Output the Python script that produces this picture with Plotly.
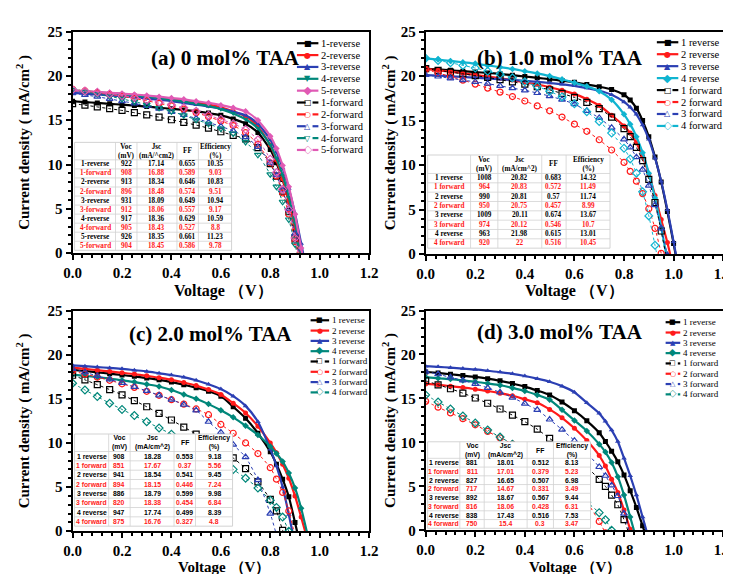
import plotly.graph_objects as go

W, H = 731, 574
SERIF = "Liberation Serif"
SANS = "Liberation Sans"

# ---------------- data: panel (a) 0 mol% TAA ----------------
a_voltage = [0, .05, .1, .15, .2, .25, .3, .35, .4, .45, .5, .55, .6, .65, .7, .75, .8, .825, .85, .875, .9, .925, .95]
a_1_reverse = [17.14, 17.05, 16.95, 16.85, 16.75, 16.65, 16.55, 16.4, 16.3, 16.15, 16.0, 15.8, 15.55, 15.15, 14.6, 13.6, 11.7, 10.2, 8.3, 5.9, 3.1, -0.2, -3.5]
a_2_reverse = [18.34, 18.25, 18.15, 18.05, 17.95, 17.85, 17.7, 17.55, 17.4, 17.2, 17.0, 16.75, 16.45, 16.0, 15.45, 14.3, 12.2, 10.5, 8.4, 5.9, 2.8, -0.7, -4.1]
a_3_reverse = [18.09, 18.0, 17.9, 17.8, 17.7, 17.6, 17.45, 17.3, 17.15, 16.95, 16.75, 16.55, 16.3, 15.95, 15.55, 14.6, 12.8, 11.4, 9.6, 7.3, 4.5, 1.1, -2.4]
a_4_reverse = [18.36, 18.25, 18.15, 18.05, 17.95, 17.8, 17.65, 17.5, 17.3, 17.1, 16.85, 16.6, 16.25, 15.75, 15.1, 14.1, 12.2, 10.7, 8.8, 6.3, 3.4, -0.2, -3.8]
a_5_reverse = [18.35, 18.27, 18.2, 18.1, 18.0, 17.9, 17.8, 17.65, 17.5, 17.35, 17.15, 16.95, 16.7, 16.4, 16.0, 15.0, 13.2, 11.8, 9.9, 7.5, 4.4, 0.6, -3.1]
a_1_forward = [16.88, 16.7, 16.5, 16.3, 16.1, 15.85, 15.6, 15.35, 15.05, 14.75, 14.45, 14.1, 13.7, 13.3, 12.9, 11.9, 10.1, 8.7, 7.0, 4.7, 1.7, -1.6, -4.8]
a_2_forward = [18.48, 18.3, 18.1, 17.9, 17.7, 17.45, 17.2, 16.9, 16.6, 16.25, 15.85, 15.4, 14.9, 14.4, 13.6, 12.3, 10.2, 8.7, 6.8, 4.4, 1.3, -2.1, -5.5]
a_3_forward = [18.06, 17.85, 17.65, 17.4, 17.15, 16.9, 16.6, 16.3, 15.95, 15.6, 15.2, 14.75, 14.3, 13.8, 13.1, 12.0, 10.2, 8.8, 7.1, 5.0, 2.2, -0.9, -4.0]
a_4_forward = [18.43, 18.2, 17.95, 17.7, 17.4, 17.1, 16.75, 16.4, 16.0, 15.55, 15.05, 14.6, 14.05, 13.5, 12.55, 11.1, 8.9, 7.5, 5.8, 3.8, 1.0, -2.2, -5.5]
a_5_forward = [18.45, 18.3, 18.15, 17.95, 17.75, 17.55, 17.3, 17.05, 16.75, 16.4, 16.0, 15.55, 15.1, 14.6, 13.95, 12.8, 10.6, 9.1, 7.2, 4.9, 1.7, -1.7, -5.2]

a_tab_labels = ["1-reverse", "1-forward", "2-reverse", "2-forward", "3-reverse", "3-forward", "4-reverse", "4-forward", "5-reverse", "5-forward"]
a_tab_voc = [922, 908, 913, 896, 931, 912, 917, 905, 926, 904]
a_tab_jsc = [17.14, 16.88, 18.34, 18.48, 18.09, 18.06, 18.36, 18.43, 18.35, 18.45]
a_tab_ff = [0.655, 0.589, 0.646, 0.574, 0.649, 0.557, 0.629, 0.527, 0.661, 0.586]
a_tab_eff = [10.35, 9.03, 10.83, 9.51, 10.94, 9.17, 10.59, 8.8, 11.23, 9.78]

# ---------------- data: panel (b) 1.0 mol% TAA ----------------
b_voltage = [0, .05, .1, .15, .2, .25, .3, .35, .4, .45, .5, .55, .6, .65, .7, .75, .8, .825, .85, .875, .9, .925, .95, .975, 1.0, 1.025]
b_1_reverse = [20.82, 20.75, 20.65, 20.55, 20.45, 20.35, 20.25, 20.1, 19.95, 19.8, 19.65, 19.5, 19.3, 19.05, 18.8, 18.5, 17.9, 17.3, 16.4, 15.0, 13.2, 10.9, 8.1, 4.8, 1.2, -2.6]
b_2_reverse = [20.81, 20.65, 20.5, 20.3, 20.15, 19.95, 19.75, 19.55, 19.3, 19.05, 18.75, 18.4, 18.0, 17.4, 16.7, 15.6, 14.4, 13.6, 12.5, 11.0, 9.0, 6.6, 3.9, 1.3, -1.7, None]
b_3_reverse = [20.11, 20.05, 19.98, 19.9, 19.82, 19.74, 19.65, 19.56, 19.46, 19.35, 19.22, 19.07, 18.9, 18.65, 18.35, 17.9, 17.1, 16.5, 15.7, 14.5, 12.9, 10.8, 8.2, 5.0, 1.4, -2.4]
b_4_reverse = [21.98, 21.85, 21.7, 21.55, 21.4, 21.2, 21.0, 20.8, 20.55, 20.3, 20.0, 19.65, 19.25, 18.85, 18.3, 17.35, 15.7, 14.6, 13.2, 11.4, 9.1, 6.3, 3.0, -0.7, -4.5, None]
b_1_forward = [20.83, 20.65, 20.45, 20.25, 20.05, 19.85, 19.6, 19.35, 19.1, 18.8, 18.45, 18.05, 17.6, 17.05, 16.35, 15.4, 14.1, 13.2, 12.0, 10.5, 8.4, 5.8, 2.6, -1.0, -4.8, None]
b_2_forward = [20.75, 20.35, 19.95, 19.55, 19.1, 18.65, 18.2, 17.7, 17.2, 16.65, 16.1, 15.4, 14.6, 13.8, 12.85, 11.7, 10.3, 9.3, 8.2, 6.8, 5.1, 2.9, 0.1, -3.2, None, None]
b_3_forward = [20.12, 19.95, 19.75, 19.55, 19.35, 19.15, 18.9, 18.65, 18.4, 18.1, 17.75, 17.35, 16.85, 16.1, 15.3, 14.2, 12.9, 12.0, 10.9, 9.5, 7.7, 5.5, 2.9, -0.1, -3.5, None]
b_4_forward = [22.0, 21.75, 21.5, 21.2, 20.9, 20.55, 20.2, 19.8, 19.35, 18.85, 18.3, 17.65, 16.9, 16.0, 14.9, 13.6, 11.9, 10.7, 9.1, 7.0, 4.3, 1.0, -2.5, None, None, None]

b_tab_labels = ["1 reverse", "1 forward", "2 reverse", "2 forward", "3 reverse", "3 forward", "4 reverse", "4 forward"]
b_tab_voc = [1008, 964, 990, 950, 1009, 974, 963, 920]
b_tab_jsc = [20.82, 20.83, 20.81, 20.75, 20.11, 20.12, 21.98, 22]
b_tab_ff = [0.683, 0.572, 0.57, 0.457, 0.674, 0.546, 0.615, 0.516]
b_tab_eff = [14.32, 11.49, 11.74, 8.99, 13.67, 10.7, 13.01, 10.45]

# ---------------- data: panel (c) 2.0 mol% TAA ----------------
c_voltage = [0, .05, .1, .15, .2, .25, .3, .35, .4, .45, .5, .55, .6, .65, .7, .75, .8, .825, .85, .875, .9, .925, .95, .975]
c_1_reverse = [18.28, 18.15, 18.0, 17.85, 17.7, 17.55, 17.35, 17.15, 16.9, 16.6, 16.25, 15.85, 15.3, 14.1, 12.8, 11.1, 9.0, 7.6, 5.9, 3.9, 1.0, -2.0, None, None]
c_2_reverse = [18.54, 18.4, 18.25, 18.1, 17.95, 17.8, 17.6, 17.4, 17.15, 16.85, 16.5, 16.05, 15.5, 14.5, 13.4, 11.9, 10.0, 8.9, 7.6, 6.0, 4.0, 1.6, -0.9, -3.4]
c_3_reverse = [18.79, 18.7, 18.6, 18.5, 18.4, 18.25, 18.1, 17.9, 17.7, 17.45, 17.1, 16.65, 16.1, 15.3, 14.2, 12.4, 9.3, 7.4, 5.0, 1.9, -1.5, None, None, None]
c_4_reverse = [17.74, 17.6, 17.45, 17.3, 17.1, 16.9, 16.65, 16.4, 16.0, 15.5, 15.0, 14.4, 13.7, 12.9, 11.95, 10.9, 9.6, 8.8, 7.9, 6.6, 4.9, 2.6, -0.3, None]
c_1_forward = [17.67, 17.15, 16.6, 16.05, 15.45, 14.8, 14.1, 13.35, 12.6, 11.8, 11.0, 10.1, 9.2, 8.3, 7.1, 5.6, 3.6, 2.3, 0.1, -1.8, None, None, None, None]
c_2_forward = [18.15, 17.8, 17.45, 17.1, 16.7, 16.3, 15.85, 15.4, 14.9, 14.4, 13.85, 13.2, 12.1, 11.1, 10.0, 8.8, 7.2, 5.9, 4.4, 2.3, -0.5, None, None, None]
c_3_forward = [18.38, 18.0, 17.6, 17.2, 16.8, 16.35, 15.9, 15.4, 14.9, 14.35, 13.7, 12.4, 11.2, 9.8, 8.4, 5.8, 2.0, -0.4, None, None, None, None, None, None]
c_4_forward = [16.76, 16.0, 15.25, 14.5, 13.8, 13.1, 12.4, 11.7, 11.0, 10.3, 9.6, 8.75, 7.9, 7.0, 6.0, 4.9, 3.5, 2.7, 1.6, 0.0, -1.6, None, None, None]

c_tab_labels = b_tab_labels
c_tab_voc = [908, 851, 941, 894, 886, 820, 947, 875]
c_tab_jsc = [18.28, 17.67, 18.54, 18.15, 18.79, 18.38, 17.74, 16.76]
c_tab_ff = [0.553, 0.37, 0.541, 0.446, 0.599, 0.454, 0.499, 0.327]
c_tab_eff = [9.18, 5.56, 9.45, 7.24, 9.98, 6.84, 8.39, 4.8]

# ---------------- data: panel (d) 3.0 mol% TAA ----------------
d_voltage = [0, .05, .1, .15, .2, .25, .3, .35, .4, .45, .5, .55, .6, .65, .7, .725, .75, .775, .8, .825, .85, .875, .9, .925]
d_1_reverse = [18.01, 17.9, 17.75, 17.6, 17.45, 17.25, 17.0, 16.7, 16.35, 15.9, 15.4, 14.6, 13.6, 12.45, 11.1, 10.1, 9.0, 7.8, 6.3, 4.5, 2.6, 0.5, -1.6, None]
d_2_reverse = [16.65, 16.55, 16.4, 16.25, 16.05, 15.85, 15.6, 15.3, 14.9, 14.5, 13.75, 12.8, 11.6, 10.2, 8.5, 7.3, 5.8, 4.3, 2.3, 0.1, -2.0, None, None, None]
d_3_reverse = [18.67, 18.6, 18.5, 18.4, 18.3, 18.15, 18.0, 17.8, 17.55, 17.25, 16.9, 16.4, 15.7, 14.5, 13.3, 12.4, 11.4, 10.1, 8.2, 6.2, 4.0, 1.5, -1.0, None]
d_4_reverse = [17.43, 17.3, 17.2, 17.05, 16.9, 16.7, 16.5, 16.2, 15.85, 15.4, 14.85, 13.7, 12.5, 11.3, 9.8, 8.9, 7.7, 6.1, 4.0, 1.5, -1.0, None, None, None]
d_1_forward = [17.01, 16.55, 16.1, 15.6, 15.05, 14.45, 13.8, 13.1, 12.35, 11.5, 10.45, 9.45, 8.4, 7.2, 5.8, 5.0, 4.0, 2.9, 1.2, -0.8, None, None, None, None]
d_2_forward = [14.67, 14.0, 13.35, 12.7, 12.0, 11.25, 10.5, 9.8, 8.75, 7.7, 6.8, 5.8, 4.6, 3.2, 1.0, -0.3, None, None, None, None, None, None, None, None]
d_3_forward = [18.06, 17.75, 17.4, 17.05, 16.65, 16.2, 15.7, 15.1, 14.4, 13.7, 12.6, 11.45, 10.2, 8.8, 7.2, 6.2, 5.1, 3.9, 1.9, -0.5, None, None, None, None]
d_4_forward = [15.4, 14.6, 13.8, 13.0, 12.2, 11.4, 10.6, 9.8, 8.7, 7.6, 6.5, 5.4, 4.3, 3.2, 2.0, 1.2, 0.0, -1.2, None, None, None, None, None, None]

d_tab_labels = b_tab_labels
d_tab_voc = [881, 811, 827, 717, 892, 816, 838, 750]
d_tab_jsc = [18.01, 17.01, 16.65, 14.67, 18.67, 18.06, 17.43, 15.4]
d_tab_ff = [0.512, 0.379, 0.507, 0.331, 0.567, 0.428, 0.516, 0.3]
d_tab_eff = [8.13, 5.23, 6.98, 3.49, 9.44, 6.31, 7.53, 3.47]

x_ticks = [0.0, 0.2, 0.4, 0.6, 0.8, 1.0, 1.2]
y_ticks = [0, 5, 10, 15, 20, 25]

# ---------------- styles ----------------
BLACK, RED, BLUE, TEAL, CYAN, PINK = "#000000", "#FF1A1A", "#2B3FB3", "#00877A", "#10B4D0", "#E05AB4"

# panel geometry in pixels: (left, right, top, bottom)
GEOM = {
    "a": (57, 361, 16, 244),
    "b": (419, 724, 16, 245),
    "c": (57, 361, 303, 530),
    "d": (419, 724, 303, 529),
}

def fx(p):
    return p / W

def fy(p):
    return 1 - p / H

fig = go.Figure()
annotations = []
shapes = []

def add_curves(axis_id, volt, rev_list, fwd_list, colors, symbols, sep):
    xa = "x" if axis_id == 1 else f"x{axis_id}"
    ya = "y" if axis_id == 1 else f"y{axis_id}"
    n = len(rev_list)
    for i in range(n):
        fig.add_trace(go.Scatter(
            x=volt, y=rev_list[i], xaxis=xa, yaxis=ya, mode="lines+markers",
            name=f"{i+1}{sep}reverse", showlegend=False,
            line=dict(color=colors[i], width=2.2, shape="spline", smoothing=0.6),
            marker=dict(symbol=symbols[i], size=5, color=colors[i])))
    for i in range(n):
        fig.add_trace(go.Scatter(
            x=volt, y=fwd_list[i], xaxis=xa, yaxis=ya, mode="lines+markers",
            name=f"{i+1}{sep}forward", showlegend=False,
            line=dict(color=colors[i], width=1, dash="dot", shape="spline", smoothing=0.6),
            marker=dict(symbol=symbols[i] + "-open", size=6, color=colors[i],
                        line=dict(width=1.2, color=colors[i]))))

SYM5 = ["square", "circle", "triangle-up", "triangle-down", "diamond"]
SYM4 = ["square", "circle", "triangle-up", "diamond"]
add_curves(1, a_voltage,
           [a_1_reverse, a_2_reverse, a_3_reverse, a_4_reverse, a_5_reverse],
           [a_1_forward, a_2_forward, a_3_forward, a_4_forward, a_5_forward],
           [BLACK, RED, BLUE, TEAL, PINK], SYM5, "-")
add_curves(2, b_voltage,
           [b_1_reverse, b_2_reverse, b_3_reverse, b_4_reverse],
           [b_1_forward, b_2_forward, b_3_forward, b_4_forward],
           [BLACK, RED, BLUE, CYAN], SYM4, " ")
add_curves(3, c_voltage,
           [c_1_reverse, c_2_reverse, c_3_reverse, c_4_reverse],
           [c_1_forward, c_2_forward, c_3_forward, c_4_forward],
           [BLACK, RED, BLUE, TEAL], SYM4, " ")
add_curves(4, d_voltage,
           [d_1_reverse, d_2_reverse, d_3_reverse, d_4_reverse],
           [d_1_forward, d_2_forward, d_3_forward, d_4_forward],
           [BLACK, RED, BLUE, TEAL], SYM4, " ")

# ---------------- axes ----------------
YT = "Current density ( mA/cm<sup>2</sup> )"
XT = "Voltage （V）"
TITLE_FONT_Y = dict(family=SERIF, size=15, color="black", weight="bold")

def xaxis_cfg(key):
    l, r, t, b = GEOM[key]
    return dict(domain=[fx(l), fx(r)], range=[0, 1.2], tickvals=x_ticks,
                ticktext=[f"{v:.1f}" for v in x_ticks],
                showline=True, linecolor="black", linewidth=2, mirror=True,
                ticks="outside", ticklen=5, tickwidth=2, tickcolor="black",
                showgrid=False, zeroline=False,
                tickfont=dict(family=SERIF, size=15, color="black", weight="bold"),
                minor=dict(ticks="outside", ticklen=3, tickwidth=1.5, tickcolor="black", dtick=0.04))

def yaxis_cfg(key, standoff):
    l, r, t, b = GEOM[key]
    return dict(domain=[fy(b), fy(t)], range=[0, 25], tickvals=y_ticks,
                title=dict(text=YT, font=TITLE_FONT_Y, standoff=standoff),
                showline=True, linecolor="black", linewidth=2, mirror=True,
                ticks="outside", ticklen=5, tickwidth=2, tickcolor="black",
                showgrid=False, zeroline=False,
                tickfont=dict(family=SERIF, size=15, color="black", weight="bold"),
                minor=dict(ticks="outside", ticklen=3, tickwidth=1.5, tickcolor="black", dtick=1))

layout_axes = {}
for idx, key in enumerate(["a", "b", "c", "d"], start=1):
    xk = "xaxis" if idx == 1 else f"xaxis{idx}"
    yk = "yaxis" if idx == 1 else f"yaxis{idx}"
    xc = xaxis_cfg(key)
    yc = yaxis_cfg(key, 14 if key in ("a", "c") else 1)
    xc["anchor"] = "y" if idx == 1 else f"y{idx}"
    yc["anchor"] = "x" if idx == 1 else f"x{idx}"
    layout_axes[xk] = xc
    layout_axes[yk] = yc

# ---------------- helpers ----------------
def text(x, y, s, size, family=SERIF, bold=True, angle=0, xanchor="center", color="black"):
    annotations.append(dict(x=fx(x), y=fy(y), xref="paper", yref="paper", text=s,
                            showarrow=False, textangle=angle, xanchor=xanchor, yanchor="middle",
                            borderpad=0,
                            font=dict(family=family, size=size, color=color,
                                      weight="bold" if bold else "normal")))

def hline(x0, x1, y, color, width, dash="solid"):
    shapes.append(dict(type="line", xref="paper", yref="paper", layer="above",
                       x0=fx(x0), x1=fx(x1), y0=fy(y), y1=fy(y),
                       line=dict(color=color, width=width, dash=dash)))

# ---------------- panel titles and x-axis titles ----------------
text(214, 43, "(a) 0 mol% TAA", 21)
text(557, 43, "(b) 1.0 mol% TAA", 21)
text(198, 327, "(c) 2.0 mol% TAA", 21)
text(557, 325, "(d) 3.0 mol% TAA", 21)

text(212, 283, XT, 16)
text(572, 283, XT, 16)
text(212, 566.5, XT, 15)
text(572, 566.5, XT, 15)

# ---------------- legends (line samples + glyphs + labels) ----------------
# glyph: (character, rotation) -- diamonds are rotated squares
G_FILLED = {"square": ("■", 0), "circle": ("●", 0), "triangle-up": ("▲", 0),
            "triangle-down": ("▼", 0), "diamond": ("■", 45)}
G_OPEN = {"square": ("□", 0), "circle": ("○", 0), "triangle-up": ("△", 0),
          "triangle-down": ("▽", 0), "diamond": ("□", 45)}

def add_legend(x0, x1, x_text, y0, dy, fsize, gsize, colors, symbols, sep):
    k = 0
    xc = (x0 + x1) / 2
    n = len(colors)
    for kind in ("reverse", "forward"):
        for i in range(n):
            y = y0 + dy * k
            c = colors[i]
            if kind == "reverse":
                hline(x0, x1, y, c, 2.2)
                g, rot = G_FILLED[symbols[i]]
            else:
                hline(x0, xc - 2, y, c, 2.2)
                hline(xc + 5, x1, y, c, 2.2)
                g, rot = G_OPEN[symbols[i]]
            annotations.append(dict(x=fx(xc), y=fy(y), xref="paper", yref="paper", text=g,
                                    showarrow=False, textangle=rot, xanchor="center",
                                    yanchor="middle", borderpad=0,
                                    font=dict(family="DejaVu Sans", size=gsize, color=c)))
            text(x_text, y, f"{i+1}{sep}{kind}", fsize, bold=False, xanchor="left")
            k += 1

add_legend(287, 309, 311, 28, 12.2, 10.5, 8, [BLACK, RED, BLUE, TEAL, PINK], SYM5, "-")
add_legend(656, 678, 680, 27, 12.3, 10.5, 8, [BLACK, RED, BLUE, CYAN], SYM4, " ")
add_legend(301, 320, 322, 313, 10.6, 9, 7, [BLACK, RED, BLUE, TEAL], SYM4, " ")
add_legend(665, 680, 682, 315, 10.6, 9, 7, [BLACK, RED, BLUE, TEAL], SYM4, " ")

# ---------------- tables (shapes + text) ----------------
def add_table(cols, top, head_bot, row_h, headers, labels, voc, jsc, ff, eff, family, fsize):
    n = len(labels)
    bottom = head_bot + row_h * n
    shapes.append(dict(type="rect", xref="paper", yref="paper", layer="above",
                       x0=fx(cols[0]), x1=fx(cols[-1]), y0=fy(bottom), y1=fy(top),
                       fillcolor="white", line=dict(color="#C8C8C8", width=0.8)))
    for cx in cols[1:-1]:
        shapes.append(dict(type="line", xref="paper", yref="paper", layer="above",
                           x0=fx(cx), x1=fx(cx), y0=fy(bottom), y1=fy(top),
                           line=dict(color="#D2D2D2", width=0.8)))
    for i in range(n):
        hline(cols[0], cols[-1], head_bot + row_h * i, "#D2D2D2", 0.8)
    for j, h in enumerate(headers):
        if h:
            cx = (cols[j] + cols[j + 1]) / 2
            text(cx, (top + head_bot) / 2, h, fsize, family=family)
    columns = [labels, voc, jsc, ff, eff]
    for i in range(n):
        color = "black" if i % 2 == 0 else "#FF1A1A"
        cy = head_bot + row_h * (i + 0.5)
        for j, col in enumerate(columns):
            cx = (cols[j] + cols[j + 1]) / 2
            text(cx, cy, str(col[i]), fsize, family=family, color=color)

add_table([59, 101, 123, 164, 186, 220], 130, 148, 9.3,
          ["", "Voc<br>(mV)", "Jsc<br>(mA/^cm2)", "FF", "Efficiency<br>(%)"],
          a_tab_labels, a_tab_voc, a_tab_jsc, a_tab_ff, a_tab_eff, SERIF, 7.2)
add_table([421, 465, 493, 538, 563, 608], 143, 162, 9.6,
          ["", "Voc<br>(mV)", "Jsc<br>(mA/cm^2)", "FF", "Efficiency<br>(%)"],
          b_tab_labels, b_tab_voc, b_tab_jsc, b_tab_ff, b_tab_eff, SERIF, 7.2)
add_table([59, 94, 116, 161, 183, 221], 430, 448, 9.6,
          ["", "Voc<br>(mV)", "Jsc<br>(mA/cm^2)", "FF", "Efficiency<br>(%)"],
          c_tab_labels, c_tab_voc, c_tab_jsc, c_tab_ff, c_tab_eff, SANS, 6.8)
add_table([421, 454, 479, 523, 550, 588], 438, 455, 9.0,
          ["", "Voc<br>(mV)", "Jsc<br>(mA/cm^2)", "FF", "Efficiency<br>(%)"],
          d_tab_labels, d_tab_voc, d_tab_jsc, d_tab_ff, d_tab_eff, SANS, 6.8)

fig.update_layout(
    width=W, height=H, autosize=False,
    margin=dict(l=0, r=0, t=0, b=0),
    paper_bgcolor="white", plot_bgcolor="white",
    showlegend=False,
    annotations=annotations, shapes=shapes,
    **layout_axes,
)

fig.write_html("out.html")
